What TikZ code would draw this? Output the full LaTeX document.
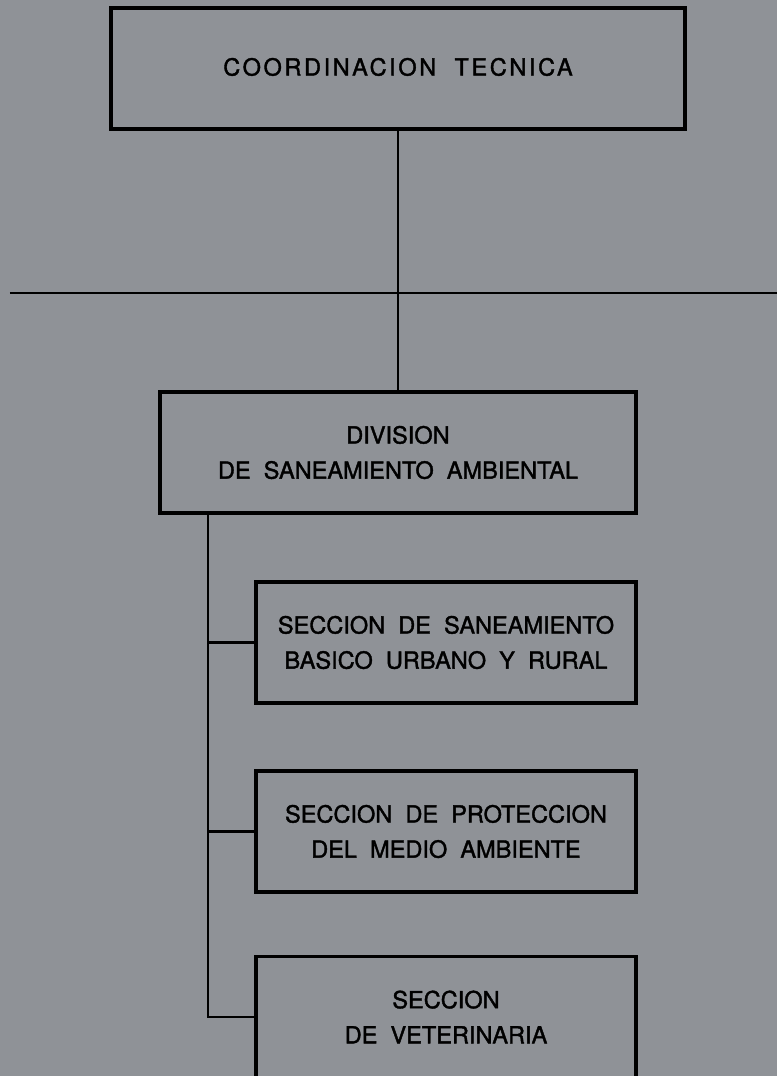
\documentclass[tikz,border=0pt]{standalone}
\usepackage{fontspec}
\setmainfont{TeX Gyre Heros}[WordSpace=2.0,FakeBold=1.6]
\newfontfamily\spacedfont{TeX Gyre Heros}[LetterSpace=11,WordSpace=2,FakeBold=1.6]
\usetikzlibrary{positioning}
\definecolor{fondo}{RGB}{143,146,151}
\begin{document}
\begin{tikzpicture}[font=\fontsize{13.4}{20}\selectfont,
	box/.style={draw,line width=2.1pt,align=center,inner sep=0pt,minimum height=2.42cm},
	link/.style={line width=1.5pt}]
	\fill[fondo] (0,0) rectangle (15.54,21.52);
	\clip (0,0) rectangle (15.54,21.52);
	\node[box,minimum width=11.48cm] (coord) at (7.96,20.15) {\spacedfont\raisebox{2pt}{COORDINACION TECNICA}};
	\node[box,minimum width=9.52cm] (div) at (7.96,12.47) {DIVISION\\DE SANEAMIENTO AMBIENTAL};
	\node[box,minimum width=7.6cm] (san) at (8.92,8.67) {SECCION DE SANEAMIENTO\\BASICO URBANO Y RURAL};
	\node[box,minimum width=7.6cm] (med) at (8.92,4.89) {SECCION DE PROTECCION\\DEL MEDIO AMBIENTE};
	\node[box,minimum width=7.6cm] (vet) at (8.92,1.18) {SECCION\\DE VETERINARIA};
	% linea horizontal
	\coordinate (izq) at (0.2,15.66);
	\coordinate (der) at (15.54,15.66);
	\draw[link] (izq)--(der);
	\draw[link] (coord.south)--(div.north);
	% ramas de la division
	\coordinate (tronco) at ([xshift=1cm]div.south west);
	\draw[link] (tronco) |- (vet.west);
	\draw[link] (tronco |- san.west)--(san.west);
	\draw[link] (tronco |- med.west)--(med.west);
\end{tikzpicture}
\end{document}
